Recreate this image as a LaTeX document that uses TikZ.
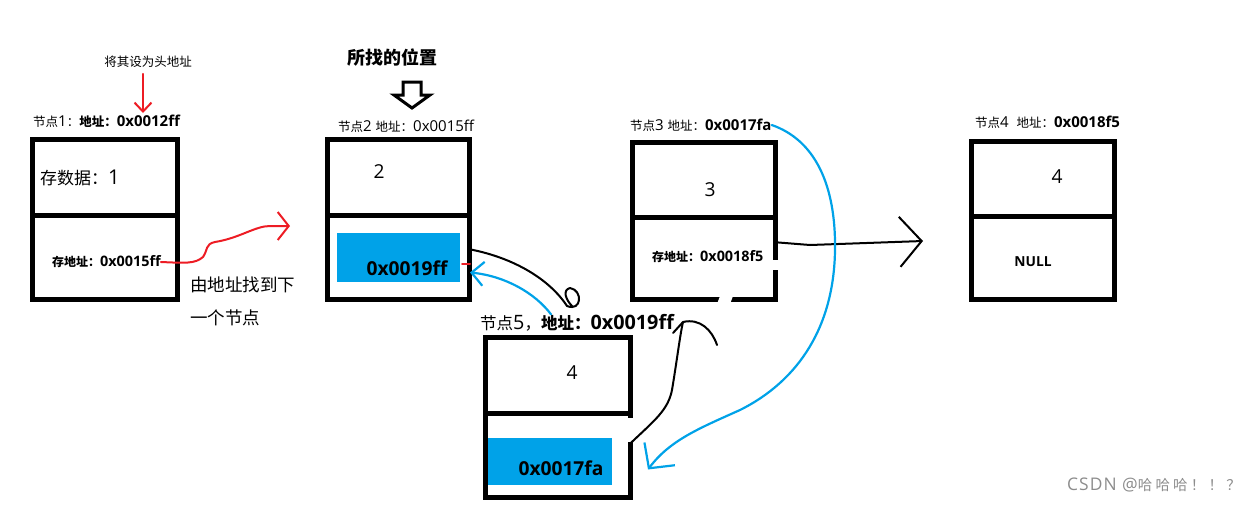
\documentclass[tikz,border=0pt]{standalone}
\usepackage{fontspec}
\setmainfont{Open Sans}[Scale=1.2]
\newfontfamily\cjk{Noto Sans CJK SC}
\usetikzlibrary{positioning,arrows.meta}
\definecolor{penred}{RGB}{237,28,36}
\definecolor{penblue}{RGB}{0,162,232}

\begin{document}
\begin{tikzpicture}[x=1pt, y=-1pt,
  cell/.style={draw, line width=5pt, inner sep=0pt, outer sep=0pt},
  cellfill/.style={fill=penblue, inner sep=0pt, outer sep=0pt, anchor=north west},
  lab/.style={inner sep=0pt, anchor=west, font=\fontsize{12.5pt}{14pt}\selectfont},
  big/.style={inner sep=0pt, font=\fontsize{16pt}{19pt}\selectfont},
  addr/.style={inner sep=0pt, anchor=west, font=\fontsize{12pt}{14pt}\selectfont\bfseries},
  val/.style={inner sep=0pt, font=\fontsize{16pt}{19pt}\selectfont\bfseries},
  redpen/.style={draw=penred, line width=2pt, line cap=round, line join=round},
  bluepen/.style={draw=penblue, line width=2.2pt, line cap=round, line join=round},
  blackpen/.style={draw=black, line width=2pt, line cap=round, line join=round}]
\useasboundingbox (0,0) rectangle (1252,504);

% the five nodes of the list
\node[cell, anchor=north west, minimum width=145pt, minimum height=75.5pt] (n1a) at (32.5,139.5) {};
\node[cell, below=0pt of n1a, minimum width=145pt, minimum height=84.5pt] (n1b) {};
\node[cell, anchor=north west, minimum width=142pt, minimum height=75.5pt] (n2a) at (327.5,139.5) {};
\node[cell, below=0pt of n2a, minimum width=142pt, minimum height=84.5pt] (n2b) {};
\node[cell, anchor=north west, minimum width=143pt, minimum height=74.5pt] (n3a) at (632.5,142.5) {};
\node[cell, below=0pt of n3a, minimum width=143pt, minimum height=82.5pt] (n3b) {};
\node[cell, anchor=north west, minimum width=143pt, minimum height=74.5pt] (n4a) at (971.5,141.5) {};
\node[cell, below=0pt of n4a, minimum width=143pt, minimum height=83.5pt] (n4b) {};
\node[cell, anchor=north west, minimum width=145pt, minimum height=75.5pt] (n5a) at (485.5,337.5) {};
\node[cell, below=0pt of n5a, minimum width=145pt, minimum height=84.5pt] (n5b) {};
\fill[white] (772,260) rectangle (781,270);
\fill[white] (720,296) -- (733,296) -- (730,304) -- (717,304) -- cycle;
\fill[white] (628,418) rectangle (637,442);

\node[cellfill, minimum width=123pt, minimum height=49pt] (v2) at (337,233) {};
\node[cellfill, minimum width=124pt, minimum height=47pt] (v5) at (488,438) {};

% texts
\node[inner sep=0pt, font=\fontsize{12.5pt}{15pt}\cjk] (hd) at (148,62) {将其设为头地址};
\node[lab] (lab1) at (33,121) {{\cjk 节点}1{\cjk ：}{\bfseries\cjk 地址：}{\bfseries 0x0012ff}};
\node[inner sep=0pt, anchor=west, font=\fontsize{18pt}{21pt}\selectfont\bfseries\cjk] (find) at (347,58) {所找的位置};
\node[lab] (lab2) at (338,126) {{\cjk 节点}2 {\cjk 地址：}0x0015ff};
\node[lab] (lab3) at (630,125) {{\cjk 节点}3 {\cjk 地址：}{\bfseries 0x0017fa}};
\node[lab] (lab4) at (975,122) {{\cjk 节点}4\ \ {\cjk 地址：}{\bfseries 0x0018f5}};
\node[inner sep=0pt, anchor=west, font=\fontsize{16.5pt}{19pt}\selectfont] (lab5) at (480,323) {{\cjk 节点}5{\cjk ，}{\bfseries\cjk 地址：}{\bfseries 0x0019ff}};

\node[inner sep=0pt, anchor=west, font=\fontsize{17pt}{20pt}\selectfont] (d1) at (40,178) {{\cjk 存数据：}1};
\node[addr] (a1) at (52,262) {{\cjk 存地址：}0x0015ff};
\node[inner sep=0pt, anchor=west, align=left, font=\fontsize{17.5pt}{33pt}\cjk] (note) at (190,301) {由地址找到下\\一个节点};
\node[big] (d2) at (379,172) {2};
\node[val] (t2) at (407,268) {0x0019ff};
\node[big] (d3) at (710,190) {3};
\node[addr] (a3) at (652,257) {{\cjk 存地址：}0x0018f5};
\node[big] (d4) at (1057,177) {4};
\node[inner sep=0pt, font=\fontsize{11.5pt}{13pt}\selectfont\bfseries] (null4) at (1033,262) {NULL};
\node[big] (d5) at (572,373) {4};
\node[val] (t5) at (561,468) {0x0017fa};
\node[inner sep=0pt, anchor=east, text=black!45, font=\fontsize{14.5pt}{17pt}\selectfont] (mark) at (1241,485)
  {\addfontfeature{LetterSpace=6}CSDN @{\cjk\addfontfeature{LetterSpace=22}哈哈哈！！？}};

% block arrow
\draw[line width=3pt, line join=miter] (403,82) -- (421,82) -- (421,95) -- (430,95) -- (412,108) -- (394,95) -- (403,95) -- cycle;

% hand drawn connectors
\coordinate (hdtip) at (143,113);
\coordinate (wavetip) at (290,226);
\coordinate (hook5) at (572,306);
\coordinate (v2tip) at ([xshift=10pt,yshift=-15pt]v2.east);
\coordinate (v5tip) at ([xshift=36pt,yshift=-8pt]v5.east);
\coordinate (tip34) at (923,241);
\coordinate (hook3) at (717,345);

\draw[redpen, -{Straight Barb[length=9pt,width=17pt]}] ([yshift=-6pt]hdtip |- hd.south) -- (hdtip);
\draw[redpen, -{Straight Barb[length=11pt,width=28pt]}] (a1.east) .. controls (185,263) and (195,264) .. (203,257)
  .. controls (208,250) and (205,244) .. (215,242) .. controls (240,238) and (255,226) .. (270,226) -- (wavetip);
\draw[redpen] (462,264) -- (470,264);

\draw[blackpen] ([yshift=8pt]n2b.east) .. controls (515,258) and (550,280) .. (567,306)
  .. controls (582,312) and (583,290) .. (570,288) .. controls (562,290) and (566,300) .. (hook5);
\draw[bluepen, -{Straight Barb[length=12pt,width=24pt]}] ([xshift=-26pt]lab5.north) .. controls (535,293) and (505,276) .. (v2tip);

\draw[blackpen, -{Straight Barb[length=22pt,width=50pt]}] ([yshift=16pt]n3b.east) -- (810,245) -- (tip34);
\draw[bluepen, -{Straight Barb[length=18pt,width=38pt]}] (lab3.east) .. controls (815,140) and (836,185) .. (835,250)
  .. controls (834,325) and (800,380) .. (740,410) .. controls (700,428) and (670,440) .. (v5tip);

\draw[blackpen] ([yshift=12pt]n5b.east) .. controls (655,420) and (668,410) .. (672,390)
  .. controls (677,360) and (680,335) .. (683,322) .. controls (700,318) and (712,330) .. (hook3);
\draw[blackpen] (673,333) -- (683,322);
\end{tikzpicture}
\end{document}
